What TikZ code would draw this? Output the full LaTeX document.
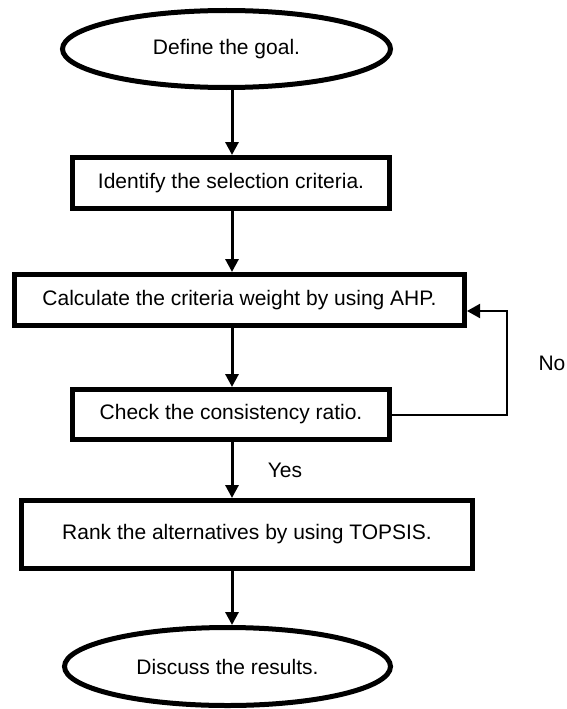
\documentclass[tikz,border=0pt]{standalone}
\usepackage{fontspec}
\setmainfont{Liberation Sans}
\usetikzlibrary{shapes.geometric,arrows.meta}
\begin{document}
\begin{tikzpicture}[x=1pt,y=-1pt,
  font=\fontsize{21}{25}\selectfont,
  stepbox/.style={draw,line width=5pt,rectangle,inner sep=0pt,align=center},
  term/.style={draw,line width=5pt,ellipse,inner sep=0pt,align=center},
  arr/.style={line width=3pt,-{Triangle[width=13pt,length=13pt]}},
  fb/.style={line width=2pt,-{Triangle[width=14pt,length=13pt]}},
  lbl/.style={inner sep=0pt}]
\useasboundingbox (0,0) rectangle (566,709);
\node[term,minimum width=328pt,minimum height=77pt] (ell1) at (226.5,49) {Define the goal.};
\node[stepbox,minimum width=317pt,minimum height=51pt] (box1) at (231,183) {Identify the selection criteria.};
\node[stepbox,minimum width=450pt,minimum height=51pt] (box2) at (239.5,300) {Calculate the criteria weight by using AHP.};
\node[stepbox,minimum width=317pt,minimum height=50pt] (box3) at (231,414.5) {Check the consistency ratio.};
\node[stepbox,minimum width=451pt,minimum height=68pt] (box4) at (247,534.5) {Rank the alternatives by using TOPSIS.};
\node[term,minimum width=326pt,minimum height=78pt] (ell2) at (227.5,666.5) {Discuss the results.};
\coordinate (col) at (232,0);
\coordinate (fbx) at (507,0);
\draw[arr] (col |- ell1.south) -- (col |- box1.north);
\draw[arr] (col |- box1.south) -- (col |- box2.north);
\draw[arr] (col |- box2.south) -- (col |- box3.north);
\draw[arr] (col |- box3.south) -- (col |- box4.north);
\draw[arr] (col |- box4.south) -- (col |- ell2.north);
\draw[fb] (box3.east) -- (box3.east -| fbx) |- ([yshift=-11pt]box2.east);
\node[lbl] (no) at (552,363) {No};
\node[lbl] (yes) at (285,470) {Yes};
\end{tikzpicture}
\end{document}
